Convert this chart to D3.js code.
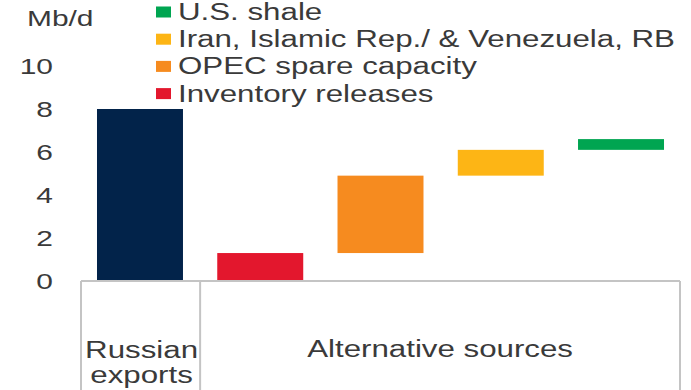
<!DOCTYPE html>
<html>
<head>
<meta charset="utf-8">
<script src="https://cdn.jsdelivr.net/npm/d3@7"></script>
<style>
  body { margin: 0; background: #fff; }
  text { font-family: "Liberation Sans", Arial, sans-serif; fill: #3a3a3a; }
</style>
</head>
<body>
<div id="chart"></div>
<script>
// waterfall pieces, Mb/d
var sources = ["Russian exports", "Inventory releases", "OPEC spare capacity", "Iran, Islamic Rep./ & Venezuela, RB", "U.S. shale"];
var starts = [0, 0, 1.3, 4.9, 6.1];
var ends = [8, 1.3, 4.9, 6.1, 6.6];
var colors = ["#02234a", "#e3172d", "#f68b1f", "#fdb515", "#00a551"];
var yTicks = [0, 2, 4, 6, 8, 10];
var legendItems = ["U.S. shale", "Iran, Islamic Rep./ & Venezuela, RB", "OPEC spare capacity", "Inventory releases"];
var legendColors = ["#00a551", "#fdb515", "#f68b1f", "#e3172d"];
var groups = [["Russian", "exports"], ["Alternative sources"]];

var width = 691, height = 390;
var stretch = 1.36; // the source picture is wider than tall, text looks stretched

var svg = d3.select("#chart")
  .append("svg")
  .attr("width", width)
  .attr("height", height);

// text placed at (px,py), stretched horizontally
function label(parent, str, px, py, size, anchor) {
  return parent.append("text")
    .attr("transform", "translate(" + px + "," + py + ") scale(" + stretch + ",1)")
    .attr("text-anchor", anchor || "start")
    .style("font-size", size + "px")
    .text(str);
}

var x = d3.scaleBand()
  .domain(sources)
  .range([81, 680])
  .paddingInner(0.285)
  .paddingOuter(0.133);

var y = d3.scaleLinear()
  .domain([0, 10])
  .range([281, 66]);

// y tick labels, no axis line
var yAxis = d3.axisLeft(y).tickValues(yTicks).tickSize(0).tickPadding(0);
var gy = svg.append("g")
  .attr("transform", "translate(53,0)")
  .call(yAxis);
gy.select(".domain").remove();
gy.selectAll("text")
  .attr("x", 0)
  .attr("transform", "scale(" + stretch + ",1)")
  .style("font-size", "22px")
  .style("font-family", "Liberation Sans, Arial, sans-serif")
  .attr("fill", "#3a3a3a");

label(svg, "Mb/d", 27, 26, 22);

// bars
svg.selectAll(".bar")
  .data(sources)
  .enter()
  .append("rect")
  .attr("class", "bar")
  .attr("x", function(d) { return x(d); })
  .attr("y", function(d, i) { return y(ends[i]); })
  .attr("width", x.bandwidth())
  .attr("height", function(d, i) { return y(starts[i]) - y(ends[i]); })
  .attr("fill", function(d, i) { return colors[i]; });

// category box
var left = 81, right = 680;
var split = (x(sources[0]) + x.bandwidth() + x(sources[1])) / 2;
var lineColor = "#c4c4c4";
svg.append("line").attr("x1", left).attr("x2", right).attr("y1", y(0)).attr("y2", y(0))
  .attr("stroke", lineColor).attr("stroke-width", 2);
[left, split, right].forEach(function(xx) {
  svg.append("line").attr("x1", xx).attr("x2", xx).attr("y1", y(0)).attr("y2", height)
    .attr("stroke", lineColor).attr("stroke-width", 2);
});

groups[0].forEach(function(s, i) {
  label(svg, s, (left + split) / 2 + 1, 358 + i * 25, 23, "middle");
});
label(svg, groups[1][0], (split + right) / 2, 357, 23, "middle");

// legend
var legend = svg.append("g").attr("transform", "translate(156,0)");
legendItems.forEach(function(name, i) {
  var ly = 12 + i * 27.2;
  legend.append("rect")
    .attr("x", 0).attr("y", ly - 5.5)
    .attr("width", 15).attr("height", 11)
    .attr("fill", legendColors[i]);
  label(legend, name, 22, ly + 8, 23);
});
</script>
</body>
</html>
